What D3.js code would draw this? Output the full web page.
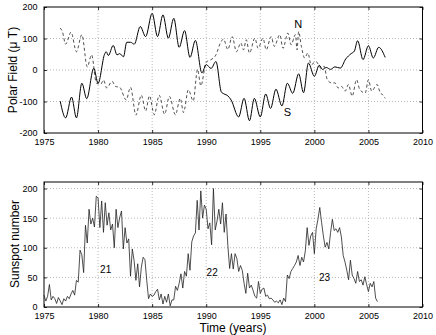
<!DOCTYPE html>
<html>
<head>
<meta charset="utf-8">
<script src="https://cdn.jsdelivr.net/npm/d3@7"></script>
<style>
  html, body { margin: 0; padding: 0; background: #fff; }
  svg { display: block; font-family: "Liberation Sans", Arial, sans-serif; }
</style>
</head>
<body>
<script>
// Polar field, south pole (solid) -- [year, microtesla]
const southField = [
    [1976.5, -99], [1977.0, -152], [1977.55, -86], [1978.0, -152], [1978.5, -42], [1978.95, -91],
    [1979.6, 5], [1980.0, -42], [1980.6, 50], [1980.75, 58], [1980.95, 46], [1981.4, 78],
    [1981.75, 48], [1982.0, 52], [1982.35, 42], [1982.65, 88], [1983.0, 88], [1983.35, 82],
    [1983.9, 138], [1984.4, 106], [1985.0, 180], [1985.5, 106], [1986.0, 175], [1986.5, 101],
    [1987.0, 164], [1987.5, 72], [1988.0, 125], [1988.5, 40], [1989.0, 94], [1989.6, -9],
    [1990.0, 17], [1990.45, 5], [1990.9, 27], [1991.4, -70], [1991.65, -76], [1992.0, -82],
    [1992.3, -95], [1993.0, -149], [1993.5, -90], [1994.0, -161], [1994.45, -90], [1995.0, -149],
    [1995.5, -76], [1995.95, -122], [1996.45, -61], [1997.0, -114], [1997.5, -42], [1998.0, -74],
    [1998.55, -12], [1999.0, -72], [1999.45, 22], [2000.0, -20], [2000.45, 15], [2000.75, 2],
    [2001.1, 8], [2001.5, 2], [2001.9, 10], [2002.4, 6], [2002.9, 35], [2003.4, 52],
    [2003.7, 60], [2004.0, 93], [2004.5, 33], [2005.0, 77], [2005.45, 38], [2005.95, 72],
    [2006.55, 40]
];

// Polar field, north pole (dashed) -- [year, microtesla]
const northField = [
    [1976.5, 133], [1976.7, 122], [1977.0, 82], [1977.5, 120], [1978.0, 58], [1978.5, 112],
    [1979.0, 10], [1979.4, 48], [1979.85, -42], [1980.25, -45], [1980.5, -32], [1980.8, -57],
    [1981.3, -36], [1981.6, -52], [1982.0, -55], [1982.6, -95], [1983.0, -55], [1983.5, -143],
    [1984.0, -80], [1984.4, -130], [1984.75, -82], [1985.2, -142], [1985.65, -80], [1986.15, -140],
    [1986.6, -84], [1987.15, -142], [1987.6, -90], [1987.9, -135], [1988.35, -63], [1988.8, -98],
    [1989.2, 2], [1989.5, -50], [1990.0, 25], [1990.4, 32], [1990.9, 48], [1991.3, 85],
    [1991.6, 98], [1992.0, 65], [1992.4, 106], [1992.8, 58], [1993.2, 86], [1993.45, 64],
    [1993.7, 96], [1994.0, 54], [1994.5, 101], [1994.8, 69], [1995.25, 101], [1995.55, 64],
    [1996.0, 106], [1996.3, 75], [1996.8, 112], [1997.1, 69], [1997.55, 117], [1997.85, 80],
    [1998.25, 112], [1998.4, 64], [1998.55, 122], [1998.8, 75], [1999.1, 38], [1999.4, 54],
    [1999.7, 17], [2000.15, 27], [2000.6, 6], [2000.9, 12], [2001.2, -31], [2001.6, -41],
    [2001.9, -41], [2002.2, -57], [2002.5, -52], [2002.85, -67], [2003.15, -46], [2003.5, -83],
    [2003.9, -31], [2004.2, -62], [2004.7, -73], [2005.0, -31], [2005.3, -67], [2005.8, -46],
    [2006.1, -73], [2006.3, -78], [2006.55, -90]
];

// Sunspot number, one value every two months starting 1975.0
const sunspotStart = 1975;
const sunspotPerYear = 6;
const sunspots = [
    20, 10, 18, 38, 12, 18,      // 1975
    14, 6, 16, 10, 4, 14,        // 1976
    10, 18, 14, 22, 28, 20,      // 1977
    45, 42, 96, 88, 58, 138,     // 1978
    108, 165, 140, 150, 135, 187,// 1979
    184, 134, 179, 126, 176, 138,// 1980
    159, 130, 140, 100, 165, 134,// 1981
    151, 162, 98, 134, 108, 115, // 1982
    52, 98, 78, 45, 73, 34,      // 1983
    67, 84, 80, 45, 14, 22,      // 1984
    18, 20, 26, 30, 12, 22,      // 1985
    5, 18, 8, 22, 2, 12,         // 1986
    12, 35, 28, 40, 56, 32,      // 1987
    60, 52, 90, 62, 110, 120,    // 1988
    125, 180, 130, 196, 150, 172,// 1989
    165, 132, 142, 105, 200, 130,// 1990
    145, 165, 140, 176, 126, 157,// 1991
    104, 65, 90, 64, 90, 82,     // 1992
    60, 70, 62, 40, 23, 57,      // 1993
    32, 37, 28, 18, 15, 43,      // 1994
    23, 30, 32, 18, 20, 14,      // 1995
    15, 12, 8, 10, 7, 12,        // 1996
    4, 15, 9, 54, 48, 60,        // 1997
    65, 70, 76, 87, 70, 84,      // 1998
    76, 95, 134, 104, 120, 126,  // 1999
    90, 132, 148, 168, 143, 120, // 2000
    101, 109, 98, 126, 148, 129, // 2001
    132, 126, 134, 118, 87, 76,  // 2002
    62, 46, 79, 54, 48, 40,      // 2003
    60, 43, 46, 37, 51, 38,      // 2004
    26, 40, 34, 43, 15, 9        // 2005
];

const yearTicks = [1975, 1980, 1985, 1990, 1995, 2000, 2005, 2010];
const fieldTicks = [-200, -100, 0, 100, 200];
const sunspotTicks = [0, 50, 100, 150, 200];

const poleLabels = [{ text: 'N', year: 1998.5, value: 143 }, { text: 'S', year: 1997.5, value: -136 }];
const cycleLabels = [{ text: '21', year: 1980.7, value: 62 }, { text: '22', year: 1990.55, value: 57 }, { text: '23', year: 2000.95, value: 49 }];

const width = 436, height = 335;
const svg = d3.select('body').append('svg')
    .attr('width', width)
    .attr('height', height);

const x = d3.scaleLinear().domain([1975, 2010]).range([44, 422.5]);

const yField = d3.scaleLinear().domain([-200, 200]).range([133, 7]);
const ySun = d3.scaleLinear().domain([0, 211]).range([307, 182]);

// Draw frame, grid and axes of one panel
function drawPanel(y, yTicks) {
    const [y0, y1] = y.range();
    const [x0, x1] = x.range();
    const g = svg.append('g');

    // dotted grid
    g.selectAll('.vgrid')
        .data(yearTicks.filter(d => d > 1975 && d < 2010))
        .join('line')
        .attr('x1', d => x(d)).attr('x2', d => x(d))
        .attr('y1', y1).attr('y2', y0)
        .attr('stroke', '#999').attr('stroke-width', 0.7)
        .attr('stroke-dasharray', '1,2');
    g.selectAll('.hgrid')
        .data(yTicks.filter(d => y(d) > y1 + 1 && y(d) < y0 - 1))
        .join('line')
        .attr('x1', x0).attr('x2', x1)
        .attr('y1', d => y(d)).attr('y2', d => y(d))
        .attr('stroke', '#999').attr('stroke-width', 0.7)
        .attr('stroke-dasharray', '1,2');

    const bottomAxis = g.append('g').attr('transform', `translate(0,${y0})`)
        .call(d3.axisBottom(x).tickValues(yearTicks).tickSizeInner(-3).tickSizeOuter(0).tickPadding(5.5).tickFormat(d => String(d)));
    const topAxis = g.append('g').attr('transform', `translate(0,${y1})`)
        .call(d3.axisTop(x).tickValues(yearTicks).tickSizeInner(-3).tickSizeOuter(0).tickFormat(''));
    const leftAxis = g.append('g').attr('transform', `translate(${x0},0)`)
        .call(d3.axisLeft(y).tickValues(yTicks).tickSizeInner(-3).tickSizeOuter(0).tickPadding(6.5).tickFormat(d => String(d)));
    const rightAxis = g.append('g').attr('transform', `translate(${x1},0)`)
        .call(d3.axisRight(y).tickValues(yTicks).tickSizeInner(-3).tickSizeOuter(0).tickFormat(''));

    [bottomAxis, topAxis, leftAxis, rightAxis].forEach(a => {
        a.select('.domain').remove();
        a.selectAll('line').attr('stroke', '#000').attr('stroke-width', 0.8);
        a.selectAll('text').attr('font-size', 9).attr('fill', '#000')
            .attr('font-family', '"Liberation Sans", Arial, sans-serif');
    });

    g.append('rect')
        .attr('x', x0).attr('y', y1)
        .attr('width', x1 - x0).attr('height', y0 - y1)
        .attr('fill', 'none').attr('stroke', '#000').attr('stroke-width', 1);
}

drawPanel(yField, fieldTicks);
drawPanel(ySun, sunspotTicks);

// Polar field curves
const fieldLine = d3.line()
    .x(d => x(d[0]))
    .y(d => yField(d[1]))
    .curve(d3.curveMonotoneX);

svg.append('path')
    .datum(northField)
    .attr('d', fieldLine)
    .attr('fill', 'none')
    .attr('stroke', '#222')
    .attr('stroke-width', 0.8)
    .attr('stroke-dasharray', '3,2.5');

svg.append('path')
    .datum(southField)
    .attr('d', fieldLine)
    .attr('fill', 'none')
    .attr('stroke', '#000')
    .attr('stroke-width', 1);

svg.selectAll('.pole')
    .data(poleLabels)
    .join('text')
    .attr('x', d => x(d.year))
    .attr('y', d => yField(d.value))
    .attr('text-anchor', 'middle')
    .attr('dominant-baseline', 'middle')
    .attr('font-size', 11)
    .text(d => d.text);

// Sunspot curve
const sunLine = d3.line()
    .x((d, i) => x(sunspotStart + i / sunspotPerYear))
    .y(d => ySun(d));

svg.append('path')
    .datum(sunspots)
    .attr('d', sunLine)
    .attr('fill', 'none')
    .attr('stroke', '#222')
    .attr('stroke-width', 0.8);

svg.selectAll('.cycle')
    .data(cycleLabels)
    .join('text')
    .attr('x', d => x(d.year))
    .attr('y', d => ySun(d.value))
    .attr('text-anchor', 'middle')
    .attr('dominant-baseline', 'middle')
    .attr('font-size', 10)
    .text(d => d.text);

// Axis titles
svg.append('text')
    .attr('transform', 'translate(17,70) rotate(-90)')
    .attr('text-anchor', 'middle')
    .attr('font-size', 12)
    .text('Polar Field (\u03bc T)');

svg.append('text')
    .attr('transform', 'translate(19,244) rotate(-90)')
    .attr('text-anchor', 'middle')
    .attr('font-size', 12)
    .text('Sunspot number');

svg.append('text')
    .attr('x', 233)
    .attr('y', 332)
    .attr('text-anchor', 'middle')
    .attr('font-size', 12)
    .text('Time (years)');
</script>
</body>
</html>
